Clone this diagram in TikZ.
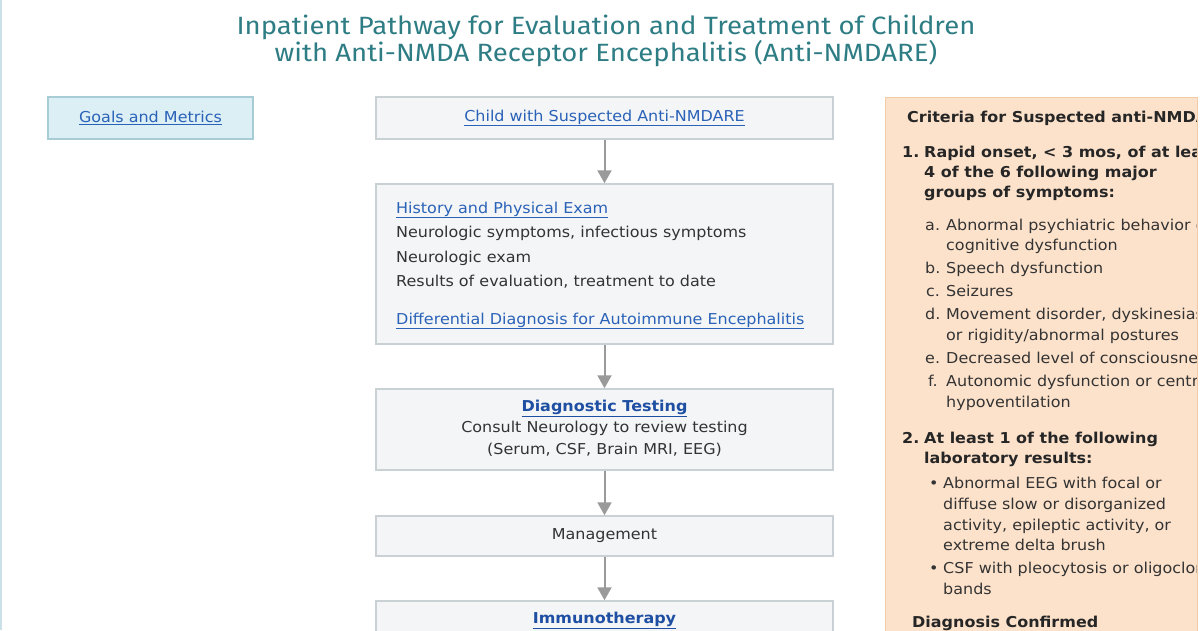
\documentclass[tikz,border=0pt]{standalone}
\usepackage{fontspec}
\setmainfont[FakeStretch=1.065]{DejaVu Sans}
\newfontfamily\titlefont[FakeStretch=1.1]{Fira Sans}
\usetikzlibrary{arrows.meta}
\definecolor{titlecol}{HTML}{2E7D84}
\definecolor{linkcol}{HTML}{2A62B8}
\definecolor{linkbold}{HTML}{1E4FA3}
\definecolor{txt}{HTML}{333333}
\definecolor{boxfill}{HTML}{F3F5F6}
\definecolor{boxline}{HTML}{C9D1D5}
\definecolor{goalfill}{HTML}{DCEFF5}
\definecolor{goalline}{HTML}{A8CCD6}
\definecolor{critfill}{HTML}{FDE2CB}
\definecolor{critline}{HTML}{F2CBA8}
\definecolor{arrcol}{HTML}{9A9A9A}
\newcommand{\lnk}[1]{\textcolor{linkcol}{\underline{#1}}}
\newcommand{\lnkb}[1]{\textcolor{linkbold}{\underline{\textbf{#1}}}}
\begin{document}
\begin{tikzpicture}[x=1pt,y=-1pt,
  flowbox/.style={draw=boxline,fill=boxfill,line width=1.5pt,minimum width=457pt,inner sep=0pt},
  goalbox/.style={draw=goalline,fill=goalfill,line width=1.5pt,minimum width=205pt,minimum height=42pt,inner sep=0pt},
  critbox/.style={draw=critline,fill=critfill,line width=1.2pt,inner sep=0pt},
  body/.style={font=\fontsize{15}{18}\selectfont,text=txt,inner sep=0pt},
  crit/.style={font=\fontsize{15}{18}\selectfont,text=txt,inner sep=0pt,anchor=base west},
  critb/.style={font=\fontsize{15}{18}\selectfont\bfseries,text=black!85,inner sep=0pt,anchor=base west},
  flowarrow/.style={draw=arrcol,line width=2pt,-{Triangle[length=13pt,width=14pt]}},
  ttl/.style={font=\titlefont\fontsize{25}{30}\selectfont,text=titlecol,inner sep=0pt}
]
\useasboundingbox (0,0) rectangle (1200,630);
\clip (0,0) rectangle (1200,630);
\fill[white] (0,0) rectangle (1200,630);
\draw[goalline!60,line width=1.5pt] (0.75,0) -- (0.75,630);

% title
\node[ttl] (t1) at (606,27) {Inpatient Pathway for Evaluation and Treatment of Children};
\node[ttl] (t2) at (606,54) {with Anti-NMDA Receptor Encephalitis (Anti-NMDARE)};

% goals
\node[goalbox] (goals) at (150.5,118) {};
\node[body] (goalst) at (goals.center) {\lnk{Goals and Metrics}};

% flow boxes
\node[flowbox,minimum height=42pt] (child) at (604.5,118) {};
\node[body] (childt) at (child.center) {\lnk{Child with Suspected Anti-NMDARE}};

\node[flowbox,minimum height=160pt] (hp) at (604.5,264) {};
\node[body,anchor=base west] (hp1) at (396,213) {\lnk{History and Physical Exam}};
\node[body,anchor=base west] (hp2) at (396,237) {Neurologic symptoms, infectious symptoms};
\node[body,anchor=base west] (hp3) at (396,262) {Neurologic exam};
\node[body,anchor=base west] (hp4) at (396,286) {Results of evaluation, treatment to date};
\node[body,anchor=base west] (hp5) at (396,324) {\lnk{Differential Diagnosis for Autoimmune Encephalitis}};

\node[flowbox,minimum height=81pt] (diag) at (604.5,429.5) {};
\node[body] (diag1) at (604.5,408) {\lnkb{Diagnostic Testing}};
\node[body] (diag2) at (604.5,428.5) {Consult Neurology to review testing};
\node[body] (diag3) at (604.5,450) {(Serum, CSF, Brain MRI, EEG)};

\node[flowbox,minimum height=40pt] (mgmt) at (604.5,536) {};
\node[body] (mgmtt) at (mgmt.center) {Management};

\node[flowbox,minimum height=60pt] (immu) at (604.5,631) {};
\node[body] (immut) at (604.5,620) {\lnkb{Immunotherapy}};

\draw[flowarrow] (child.south) -- (hp.north);
\draw[flowarrow] (hp.south) -- (diag.north);
\draw[flowarrow] (diag.south) -- (mgmt.north);
\draw[flowarrow] (mgmt.south) -- (immu.north);

% criteria panel
\node[critbox,minimum width=312pt,minimum height=560pt,anchor=north west] (crit) at (885,97) {};
\begin{scope}
\clip (crit.north west) rectangle (1196,630);
\node[critb] (c0) at (907,122) {Criteria for Suspected anti-NMDARE};
\node[critb] (c1n) at (902,157) {1.};
\node[critb] (c1) at (924,157) {Rapid onset, < 3 mos, of at least};
\node[critb] (c1b) at (924,177) {4 of the 6 following major};
\node[critb] (c1c) at (924,197) {groups of symptoms:};
\node[crit] (ca) at (925,230) {a.};
\node[crit] (ca1) at (946,230) {Abnormal psychiatric behavior or};
\node[crit] (ca2) at (946,250) {cognitive dysfunction};
\node[crit] (cb) at (925,273) {b.};
\node[crit] (cb1) at (946,273) {Speech dysfunction};
\node[crit] (cc) at (926,296) {c.};
\node[crit] (cc1) at (946,296) {Seizures};
\node[crit] (cd) at (925,319) {d.};
\node[crit] (cd1) at (946,319) {Movement disorder, dyskinesias,};
\node[crit] (cd2) at (946,340) {or rigidity/abnormal postures};
\node[crit] (ce) at (925,363) {e.};
\node[crit] (ce1) at (946,363) {Decreased level of consciousness};
\node[crit] (cf) at (928,386) {f.};
\node[crit] (cf1) at (946,386) {Autonomic dysfunction or central};
\node[crit] (cf2) at (946,407) {hypoventilation};
\node[critb] (c2n) at (902,443) {2.};
\node[critb] (c2) at (924,443) {At least 1 of the following};
\node[critb] (c2b) at (924,463) {laboratory results:};
\node[crit] (bu1) at (929,488) {•};
\node[crit] (b11) at (943,488) {Abnormal EEG with focal or};
\node[crit] (b12) at (943,509) {diffuse slow or disorganized};
\node[crit] (b13) at (943,530) {activity, epileptic activity, or};
\node[crit] (b14) at (943,550) {extreme delta brush};
\node[crit] (bu2) at (929,573) {•};
\node[crit] (b21) at (943,573) {CSF with pleocytosis or oligoclonal};
\node[crit] (b22) at (943,594) {bands};
\node[critb] (dc) at (912,627) {Diagnosis Confirmed};
\end{scope}
\end{tikzpicture}
\end{document}
